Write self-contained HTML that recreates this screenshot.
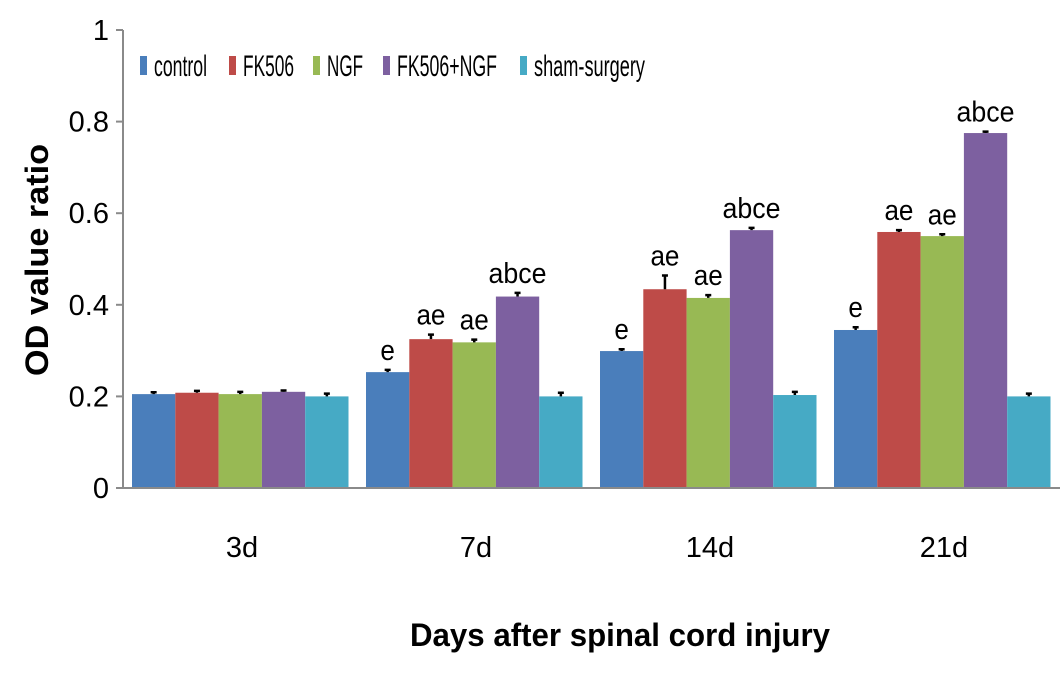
<!DOCTYPE html>
<html><head><meta charset="utf-8"><style>
body{margin:0;background:#fff}
svg text{font-family:"Liberation Sans",Arial,sans-serif}
</style></head><body>
<svg id="chart" width="1063" height="671" viewBox="0 0 1063 671" xmlns="http://www.w3.org/2000/svg">
<g id="grid"></g>
<g id="bars"></g>
<g id="axes"></g>
<g id="legend"></g>
<text x="0" y="0" transform="translate(48,260) rotate(-90)" text-anchor="middle" font-size="32" font-weight="bold" textLength="232" lengthAdjust="spacingAndGlyphs">OD value ratio</text>
<text x="620" y="646" text-anchor="middle" font-size="32" font-weight="bold" textLength="420" lengthAdjust="spacingAndGlyphs">Days after spinal cord injury</text>
</svg>
<script>
const categories = ["3d","7d","14d","21d"];
const seriesNames = ["control","FK506","NGF","FK506+NGF","sham-surgery"];
const colors = ["#4a7ebb","#be4b48","#98b954","#7d60a0","#46aac5"];
const control = [0.205,0.253,0.299,0.345];
const fk506 = [0.208,0.325,0.434,0.559];
const ngf = [0.205,0.318,0.415,0.550];
const fk506ngf = [0.210,0.418,0.563,0.775];
const sham = [0.200,0.200,0.203,0.200];
const errControl = [0.004,0.005,0.004,0.006];
const errFk506 = [0.004,0.01,0.03,0.004];
const errNgf = [0.005,0.006,0.006,0.004];
const errFk506ngf = [0.003,0.008,0.005,0.003];
const errSham = [0.006,0.008,0.007,0.006];
const labControl = ["","e","e","e"];
const labFk506 = ["","ae","ae","ae"];
const labNgf = ["","ae","ae","ae"];
const labFk506ngf = ["","abce","abce","abce"];
const labSham = ["","","",""];
const yTicks = [0,0.2,0.4,0.6,0.8,1];
const yTickLabels = ["0","0.2","0.4","0.6","0.8","1"];

const NS="http://www.w3.org/2000/svg";
const X0=123, GW=234, Y0=488, YS=458, BW=43.3, OFF=9;
const y=v=>Y0-v*YS;
const xBar=(g,s)=>X0+g*GW+OFF+s*BW;
function mk(tag,attrs,parent){const e=document.createElementNS(NS,tag);for(const k in attrs)e.setAttribute(k,attrs[k]);parent.appendChild(e);return e;}
const series=[control,fk506,ngf,fk506ngf,sham];
const errs=[errControl,errFk506,errNgf,errFk506ngf,errSham];
const labs=[labControl,labFk506,labNgf,labFk506ngf,labSham];
const bars=document.getElementById('bars'), axes=document.getElementById('axes'), legend=document.getElementById('legend');
series.forEach((vals,s)=>{vals.forEach((v,g)=>{
 const x=xBar(g,s);
 const r=mk('rect',{x:x,y:y(v),width:BW,height:Y0-y(v),fill:colors[s]},bars);
 
 
 const cx=x+BW/2, top=y(v+errs[s][g]);
 const e=mk('path',{d:`M${cx},${y(v)}V${top}M${cx-3},${top}H${cx+3}`,stroke:'#000','stroke-width':2.5},bars);
 
 
 const lab=labs[s][g];
 if(lab){
  const t=mk('text',{x:cx,y:top-10,'text-anchor':'middle','font-size':29,textLength:lab.length*14.5,lengthAdjust:'spacingAndGlyphs'},bars);
  t.textContent=lab;
  
  
 }
});});
const ax=mk('path',{d:`M${X0},${y(1)}V${Y0}H1060`,stroke:'#8a8a8a','stroke-width':2,fill:'none'},axes);


yTicks.forEach((v,i)=>{
 const tk=mk('path',{d:`M${X0-7},${y(v)}H${X0}`,stroke:'#8a8a8a','stroke-width':2},axes);
 
 
 const t=mk('text',{x:X0-14,y:y(v)+10,'text-anchor':'end','font-size':29},axes);
 t.textContent=yTickLabels[i];
 
 
});
categories.forEach((c,g)=>{
 const t=mk('text',{x:X0+g*GW+GW/2+2,y:557,'text-anchor':'middle','font-size':29},axes);
 t.textContent=c;
 
 
});
const lx=[140,229,313,383,520], lw=[53,51,36,100,111];
seriesNames.forEach((n,i)=>{
 const sw=mk('rect',{x:lx[i],y:56,width:7,height:19,fill:colors[i]},legend);
 
 
 const t=mk('text',{x:lx[i]+14,y:76,'font-size':30,textLength:lw[i],lengthAdjust:'spacingAndGlyphs'},legend);
 t.textContent=n;
 
 
});
</script>
</body></html>
